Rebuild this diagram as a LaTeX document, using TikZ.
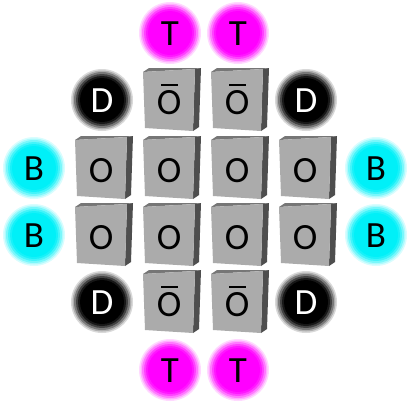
\documentclass[tikz,border=0pt]{standalone}
\usepackage{fontspec}
\setmainfont{Carlito}
\definecolor{cubefront}{HTML}{ABABAB}
\definecolor{cubeside}{HTML}{4E4E4E}
\definecolor{cubetop}{HTML}{767676}
\definecolor{tglow}{HTML}{FF00FF}
\definecolor{bglow}{HTML}{00F0F8}

\begin{document}
\begin{tikzpicture}[x=1pt, y=-1pt,
    letter/.style={font=\fontsize{37}{37}\selectfont, inner sep=0pt},
    pics/glow/.style n args={3}{code={
        \fill[#1, opacity=0.15] (0,0) circle (31);
        \fill[#1, opacity=0.2] (0,0) circle (29.5);
        \fill[#1, opacity=0.3] (0,0) circle (28);
        \fill[#1, opacity=0.45] (0,0) circle (26);
        \fill[#1, opacity=0.65] (0,0) circle (24);
        \fill[#1] (0,0) circle (22);
        \node[letter, text=#2] (-lbl) at (0,1) {#3};
    }},
    pics/cube/.style={code={
        \fill[cubetop] (-27,-28) -- (-21,-32) -- (31,-32) -- (25,-31) -- cycle;
        \fill[cubeside] (25,-31) -- (31,-32) -- (29,27) -- (23,31) -- cycle;
        \fill[cubefront] (-27,-28) -- (25,-31) -- (23,31) -- (-25,28) -- cycle;
        \node[letter] (-lbl) at (-1,3) {#1};
    }},
    pics/cubebar/.style={code={
        \pic {cube={#1}};
        \draw[line width=2.2] (-9,-15) -- (8,-15);
    }}
]
\useasboundingbox (0,0) rectangle (411,405);

% T at top and bottom
\foreach \x [count=\i] in {170,238} {
    \pic (ttop\i) at (\x,33) {glow={tglow}{black}{T}};
    \pic (tbot\i) at (\x,370) {glow={tglow}{black}{T}};
}

% B at left and right
\foreach \y [count=\i] in {168,235} {
    \pic (bleft\i) at (34,\y) {glow={bglow}{black}{B}};
    \pic (bright\i) at (376,\y) {glow={bglow}{black}{B}};
}

% D in the corners
\pic (dtl) at (102,100) {glow={black}{white}{D}};
\pic (dtr) at (306,100) {glow={black}{white}{D}};
\pic (dbl) at (102,302) {glow={black}{white}{D}};
\pic (dbr) at (306,302) {glow={black}{white}{D}};

% cubes
\foreach \x in {102,170,238,306}
    \foreach \y in {168,235}
        \pic (o\x-\y) at (\x,\y) {cube=O};
\foreach \x in {170,238}
    \foreach \y in {100,302}
        \pic (obar\x-\y) at (\x,\y) {cubebar=O};

\end{tikzpicture}
\end{document}
